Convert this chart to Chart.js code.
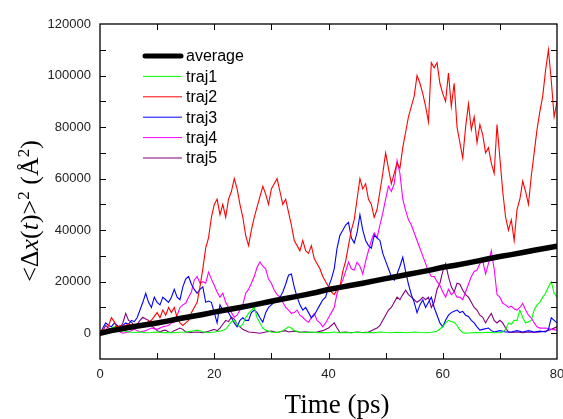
<!DOCTYPE html>
<html>
<head>
	<title>MSD trajectories</title>
	<script src="https://cdn.jsdelivr.net/npm/chart.js"></script>
	<style type="text/css">
		body { margin: 0; padding: 0; background: #fff; }
		#wrap { width: 563px; height: 419px; position: relative; }
	</style>
</head>
<body>
	<div id="wrap"><canvas id="chart"></canvas></div>
	<script>
		// values, in units of 1000 A^2, as [time (ps), value]
		var seriesNames = ['average', 'traj1', 'traj2', 'traj3', 'traj4', 'traj5'];
		var seriesColors = ['#000000', '#00ff00', '#ff0000', '#0000ff', '#ff00ff', '#800080'];
		var xTicks = [0, 20, 40, 60, 80];
		var yTicks = [0, 20000, 40000, 60000, 80000, 100000, 120000];

		var average = [[0,0],[2,1.0],[4,1.8],[6,2.6],[8,3.3],[10,4.0],[12,4.8],[14,5.7],[16,6.5],[18,7.3],[20,8.2],
			[22,9.0],[24,9.8],[26,10.6],[28,11.5],[30,12.4],[32,13.3],[34,14.1],[36,15.0],[38,15.9],[40,17.0],
			[42,17.8],[44,18.6],[46,19.4],[48,20.3],[50,21.2],[52,22.0],[54,22.9],[56,23.7],[58,24.6],[60,25.6],
			[62,26.3],[64,27.1],[66,28.0],[68,28.9],[70,29.8],[72,30.5],[74,31.3],[76,32.2],[78,33.0],[80,33.8]];

		var traj1 = [[0,0],[0.5,0.5],[1,1.5],[1.5,1],[2,2],[2.5,2.5],[3,1.5],[3.5,0.8],[4,1],[5,0.5],[6,0.3],[7,0.5],
			[8,0.2],[9,0.3],[10,0.5],[11,0.2],[12,0.3],[13,0.2],[14,0.4],[15,0.5],[16,0.8],[17,1.2],[18,0.6],[19,0.3],
			[20,0.5],[21,0.8],[22,1.5],[22.5,3],[23,4.5],[23.5,5],[24,3.5],[24.5,2.5],[25,3.5],[25.5,6],[26,7.7],
			[26.5,9],[27,10],[27.5,6],[28,4],[28.5,2],[29,1.2],[30,0.5],[31,0.3],[32,1],[33,2.5],[33.5,2],[34,1],
			[35,0.5],[36,0.3],[37,0.5],[38,0.2],[39,0.3],[40,0.2],[41,0.5],[42,0.2],[43,0.3],[44,0.2],[45,0.4],
			[46,0.2],[47,0.3],[48,0.2],[49,0.5],[50,0.3],[51,0.2],[52,0.4],[53,0.3],[54,0.2],[55,0.5],[56,0.3],
			[57,0.2],[58,0.4],[59,0.8],[60,2.5],[60.5,4],[61,5],[61.5,4.5],[62,4.3],[62.5,3],[63,1.2],[63.5,0.3],
			[64,0],[65,0.2],[66,0.3],[67,0.2],[68,0.4],[69,0.2],[70,0.3],[70.5,0.5],[71,1.5],[71.5,4],[72,3.5],
			[72.5,5],[73,5],[73.5,9],[74,6],[74.5,4],[75,4.5],[75.5,5],[76,9],[76.5,11],[77,12],[77.5,14],
			[78,15.5],[78.5,18],[79,20],[79.5,15.5],[80,14]];

		var traj2 = [[0,0],[0.5,1.5],[1,1],[1.5,3],[2,6],[2.5,4.5],[3,2],[3.5,3],[4,2.5],[5,3.5],[6,2.5],[7,3],
			[8,4],[9,5],[10,8],[10.5,6],[11,9],[11.5,7],[12,10],[12.5,8],[13,10],[13.5,6],[14,4],[14.5,3],[15,4],
			[15.5,5],[16,8],[16.5,10],[17,12],[17.5,18],[18,25],[18.5,33],[19,37],[19.5,45],[20,50],[20.5,52],
			[21,46],[21.5,50],[22,45],[22.5,52],[23,55],[23.5,60],[24,56],[24.5,50],[25,45],[25.5,38],[26,34],
			[26.5,40],[27,45],[27.5,49],[28,53],[28.5,57],[29,54],[29.5,50],[30,56],[30.5,58],[31,60],[31.5,55],
			[32,50],[32.5,52],[33,47],[33.5,42],[34,36],[34.5,34],[35,32],[35.5,36],[36,32],[36.5,31],[37,34],
			[37.5,29],[38,27],[38.5,25],[39,22],[39.5,20],[40,18],[40.5,16],[41,15],[41.5,17],[42,18],[42.5,24],
			[43,28],[43.5,34],[44,40],[44.5,44],[45,52],[45.5,60],[46,56],[46.5,58],[47,52],[47.5,50],[48,45],
			[48.5,48],[49,55],[49.5,62],[50,70],[50.5,64],[51,58],[51.5,62],[52,66],[52.5,64],[53,72],[53.5,78],
			[54,84],[54.5,88],[55,92],[55.5,100],[56,97],[56.5,93],[57,88],[57.5,82],[58,105],[58.5,103],[59,105],
			[59.5,97],[60,93],[60.5,90],[61,101],[61.5,88],[62,97],[62.5,80],[63,74],[63.5,68],[64,80],[64.5,89],
			[65,79],[65.5,84],[66,74],[66.5,81],[67,77],[67.5,70],[68,72],[68.5,66],[69,62],[69.5,81],[70,68],
			[70.5,55],[71,45],[71.5,40],[72,44],[72.5,36],[73,48],[73.5,52],[74,59],[74.5,55],[75,50],[75.5,61],
			[76,70],[76.5,79],[77,86],[77.5,92],[78,102],[78.5,110],[79,98],[79.5,84],[80,90]];

		var traj3 = [[0,0],[0.5,2],[1,4],[1.5,3],[2,2.5],[2.5,4],[3,3],[3.5,2],[4,3],[4.5,4],[5,3.5],[5.5,5],
			[6,4.5],[6.5,6],[7,9],[7.5,12],[8,15.5],[8.5,12],[9,10],[9.5,14],[10,12],[10.5,11],[11,14],[11.5,13],
			[12,12],[12.5,14],[13,17],[13.5,14],[14,13],[14.5,18],[15,21],[15.5,22],[16,19],[16.5,17],[17,15.5],
			[17.5,17],[18,18],[18.5,12],[19,12.5],[19.5,12],[20,8],[20.5,4],[21,11],[21.5,9],[22,9],[22.5,8],
			[23,6],[23.5,4],[24,2.5],[24.5,5],[25,6],[25.5,5],[26,5],[26.5,8],[27,9],[27.5,8],[28,6],[28.5,4.3],
			[29,8],[29.5,10],[30,11],[30.5,12],[31,13],[31.5,14],[32,16],[32.5,19],[33,22.5],[33.5,23],[34,18],
			[34.5,14],[35,11],[35.5,9],[36,10],[36.5,8],[37,6],[37.5,7],[38,9],[38.5,11],[39,13],[39.5,14],
			[40,18],[40.5,21],[41,25],[41.5,33],[42,38],[42.5,40],[43,42],[43.5,43],[44,37],[44.5,35],[45,39],
			[45.5,46],[46,40],[46.5,36],[47,34],[47.5,33],[48,38],[48.5,37],[49,36],[49.5,31],[50,28],[50.5,25],
			[51,22],[51.5,20.6],[52,23],[52.5,26],[53,29.5],[53.5,24],[54,19],[54.5,15],[55,12],[55.5,8],[56,11],
			[56.5,13],[57,10],[57.5,12],[58,14],[58.5,10],[59,7],[59.5,4],[60,2.5],[60.5,5],[61,7],[61.5,8],
			[62,8.5],[62.5,9],[63,8],[63.5,8.5],[64,7],[64.5,6.5],[65,5],[65.5,4],[66,2.5],[66.5,1.2],[67,1.5],
			[68,2],[68.5,1],[69,0.5],[70,1],[71,0.5],[72,0.5],[73,1],[74,0.5],[75,1],[76,0.5],[77,0.8],[78,0.5],
			[78.5,1.5],[79,6],[79.5,5],[80,4]];

		var traj4 = [[0,0],[1,1],[2,0.5],[3,1],[4,0],[5,0.5],[6,1.5],[7,0.5],[8,1],[9,2],[10,1.5],[11,2.5],
			[12,3],[12.5,4],[13,4.3],[13.5,7],[14,10],[14.5,11],[15,11.6],[15.5,14],[16,16],[16.5,20.6],[17,22],
			[17.5,19.4],[18,20],[18.5,19.4],[19,23.7],[19.5,21],[20,18.6],[20.5,16],[21,14],[21.5,15.5],[22,12],
			[22.5,10],[23,8],[23.5,6.2],[24,7],[24.5,9],[25,11],[25.5,15.5],[26,17],[26.5,19.4],[27,22],[27.5,25.6],
			[28,27.6],[28.5,26],[29,25],[29.5,21],[30,19.4],[30.5,16.7],[31,15],[31.5,14],[32,12],[32.5,10],[33,9],
			[33.5,7.7],[34,8],[34.5,9],[35,7],[35.5,6.2],[36,5],[36.5,4.3],[37,6],[37.5,7.7],[38,5],[38.5,4],
			[39,2.5],[39.5,4],[40,6],[40.5,8],[41,10],[41.5,15.5],[42,18],[42.5,20.6],[43,24],[43.5,27.6],[44,25],
			[44.5,24.5],[45,27.6],[45.5,26],[46,23],[46.5,28],[47,32],[47.5,36],[48,39],[48.5,37],[49,42],
			[49.5,46.6],[50,52],[50.5,57],[51,55],[51.5,58],[52,67],[52.5,62],[53,52],[53.5,47.7],[54,44],[54.5,42],
			[55,39],[55.5,36],[56,33],[56.5,30],[57,27],[57.5,24],[58,22],[58.5,22],[59,20],[59.5,18.6],[60,16],
			[60.5,14],[61,17],[61.5,15],[62,16],[62.5,14],[63,14],[63.5,13],[64,16],[64.5,19],[65,22],[65.5,24],
			[66,24.5],[66.5,27],[67,28],[67.5,23],[68,27],[68.5,32],[69,25],[69.5,15],[70,14],[70.5,11.6],[71,11],
			[71.5,10],[72,10.5],[72.5,9.5],[73,9],[73.5,10],[74,11.6],[74.5,9],[75,7],[75.5,6],[76,4],[76.5,2.5],
			[77,2],[78,2],[79,1.5],[80,1.2]];

		var traj5 = [[0,0],[0.5,1],[1,3],[1.5,2],[2,1.5],[2.5,2],[3,3],[3.5,2],[4,4],[4.5,7.7],[5,5],[5.5,4.3],
			[6,3],[6.5,3.5],[7,5],[7.5,6.2],[8,5.5],[8.5,5],[9,3],[9.5,2],[10,1],[10.5,0.5],[11,1],[11.5,1.2],
			[12,0.5],[12.5,0.3],[13,1],[14,2],[14.5,1.5],[15,0.5],[16,0.3],[17,0.5],[18,0.2],[19,0.8],[20,1.5],
			[20.5,1],[21,2],[21.5,3.5],[22,5],[22.5,4.5],[23,6.2],[23.5,5.5],[24,3.5],[24.5,2.5],[25,1.5],[26,0.5],
			[27,0.3],[28,0],[29,0.5],[30,0.8],[31,0.3],[32,0.8],[32.5,1],[33,0.5],[34,0.8],[35,0.4],[36,0.6],
			[37,0.3],[38,0.5],[39,1],[40,2],[40.5,3],[41,4],[41.5,2],[42,0.3],[43,0.5],[44,0.2],[45,0.5],[46,0.3],
			[47,0.5],[47.5,1],[48,1.5],[48.5,2],[49,3],[49.5,5],[50,7],[50.5,9],[51,10],[51.5,12],[52,14],
			[52.5,13],[53,15],[53.5,16.7],[54,15],[54.5,14],[55,13],[55.5,12],[56,12.8],[56.5,14],[57,13],
			[57.5,14],[58,10],[58.5,12],[59,17],[59.5,19.4],[60,24],[60.5,27],[61,22],[61.5,18],[62,16],[62.5,19.4],
			[63,19],[63.5,16.7],[64,15],[64.5,14],[65,12],[65.5,10],[66,9],[66.5,7],[67,6.2],[67.5,4],[68,6],
			[68.5,7.7],[69,5],[69.5,4],[70,5],[70.5,4],[71,2],[71.5,0.5],[72,0.3],[73,0.5],[74,0.2],[75,0.5],
			[76,0.3],[77,0.5],[78,0.8],[79,1.5],[80,2.5]];

		var allSeries = [average, traj1, traj2, traj3, traj4, traj5];

		function toPoints(arr) {
			return arr.map(function(p) { return { x: p[0], y: p[1] * 1000 }; });
		}

		var datasets = allSeries.map(function(s, i) {
			return {
				label: seriesNames[i],
				data: toPoints(s),
				borderColor: seriesColors[i],
				borderWidth: i === 0 ? 5.5 : 1.1,
				borderCapStyle: i === 0 ? 'round' : 'butt',
				pointRadius: 0,
				tension: 0
			};
		});

		var SANS = '"Liberation Sans", Arial, sans-serif';
		var SERIF = '"Liberation Serif", "Times New Roman", serif';

		// frame, inward ticks, legend and axis titles
		var decor = {
			id: 'decor',
			afterDraw: function(chart) {
				var ctx = chart.ctx, a = chart.chartArea;
				var xs = chart.scales.x, ys = chart.scales.y;
				ctx.save();
				ctx.strokeStyle = '#000';
				ctx.lineWidth = 1.3;
				ctx.strokeRect(a.left, a.top, a.right - a.left, a.bottom - a.top);
				ctx.lineWidth = 1;
				ctx.beginPath();
				for (var t = 10; t < 80; t += 10) {
					var px = Math.round(xs.getPixelForValue(t)) + 0.5;
					ctx.moveTo(px, a.bottom); ctx.lineTo(px, a.bottom - 6);
					ctx.moveTo(px, a.top); ctx.lineTo(px, a.top + 6);
				}
				for (var v = 0; v < 120000; v += 10000) {
					var py = Math.round(ys.getPixelForValue(v)) + 0.5;
					ctx.moveTo(a.left, py); ctx.lineTo(a.left + 6, py);
					ctx.moveTo(a.right, py); ctx.lineTo(a.right - 6, py);
				}
				ctx.stroke();

				// legend
				var lx = a.left + 43, ly = a.top + 32, step = 20.4;
				ctx.font = '16px ' + SANS;
				ctx.textBaseline = 'middle';
				ctx.textAlign = 'left';
				chart.data.datasets.forEach(function(ds, i) {
					var y = ly + i * step;
					ctx.strokeStyle = ds.borderColor;
					ctx.lineWidth = i === 0 ? 5 : 1;
					ctx.lineCap = i === 0 ? 'round' : 'butt';
					ctx.beginPath();
					ctx.moveTo(lx + (i === 0 ? 2 : 0), y);
					ctx.lineTo(lx + (i === 0 ? 38 : 39), y);
					ctx.stroke();
					ctx.fillStyle = '#000';
					ctx.fillText(ds.label, lx + 43, y + 1);
				});

				// x title
				ctx.fillStyle = '#000';
				ctx.font = '27px ' + SERIF;
				ctx.textAlign = 'center';
				ctx.textBaseline = 'alphabetic';
				ctx.fillText('Time (ps)', 337, 413);

				// y title  <Δx(t)>² (Å²)
				var big = 26, sup = 17;
				var parts = [
					['<', '', big, 0], ['\u0394', '', big, 0], ['x', 'italic ', big, 0], ['(', '', big, 0],
					['t', 'italic ', big, 0], [')', '', big, 0], ['>', '', big, 0], ['2', '', sup, 9],
					[' (', '', big, 0], ['\u00C5', '', big, 0], ['2', '', sup, 9], [')', '', big, 0]
				];
				var total = 0;
				parts.forEach(function(p) {
					ctx.font = p[1] + p[2] + 'px ' + SERIF;
					p.push(ctx.measureText(p[0]).width);
					total += p[4];
				});
				ctx.translate(38, 211);
				ctx.rotate(-Math.PI / 2);
				ctx.textAlign = 'left';
				var cx = -total / 2;
				parts.forEach(function(p) {
					ctx.font = p[1] + p[2] + 'px ' + SERIF;
					ctx.fillText(p[0], cx, -p[3]);
					cx += p[4];
				});
				ctx.restore();
			}
		};

		var ctx = document.getElementById('chart').getContext('2d');
		var chart = new Chart(ctx, {
			type: 'line',
			data: { datasets: datasets },
			options: {
				responsive: true,
				maintainAspectRatio: false,
				animation: false,
				layout: { padding: { top: 24, right: 6, left: 0, bottom: 0 } },
				plugins: { legend: { display: false }, tooltip: { enabled: false } },
				scales: {
					x: {
						type: 'linear',
						min: 0, max: 80,
						border: { display: false },
						grid: { display: false, drawTicks: false },
						afterBuildTicks: function(s) { s.ticks = xTicks.map(function(v) { return { value: v }; }); },
						ticks: {
							padding: 8, color: '#222', font: { family: SANS, size: 13 }, maxRotation: 0,
							callback: function(v) { return String(v); }
						},
						afterFit: function(s) { s.height = 60; s.paddingLeft = 0; s.paddingRight = 0; }
					},
					y: {
						min: -10000, max: 120000,
						border: { display: false },
						grid: { display: false, drawTicks: false },
						afterBuildTicks: function(s) { s.ticks = yTicks.map(function(v) { return { value: v }; }); },
						ticks: {
							padding: 9, color: '#222', font: { family: SANS, size: 13 },
							callback: function(v) { return String(v); }
						},
						afterFit: function(s) { s.width = 100; }
					}
				}
			},
			plugins: [decor]
		});
	</script>
</body>
</html>
